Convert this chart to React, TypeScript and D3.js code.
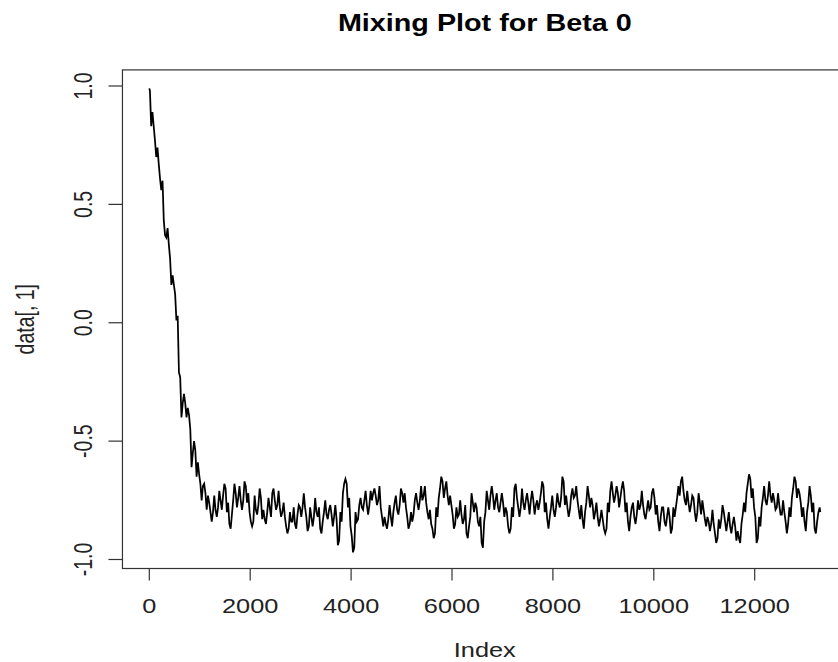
import React from "react";
import * as d3 from "d3";

// MCMC trace of Beta 0, one reading every STEP iterations (local level)
const STEP = 50;
const beta0: number[] = [
  0.99, 0.86, 0.80, 0.72, 0.64, 0.58, 0.40, 0.38, 0.30, 0.18,
  0.14, 0.02, -0.22, -0.37, -0.32, -0.38, -0.42, -0.58, -0.52, -0.62,
  -0.66, -0.72, -0.70, -0.76, -0.78, -0.82, -0.76, -0.80, -0.73, -0.76,
  -0.69, -0.78, -0.86, -0.78, -0.70, -0.76, -0.72, -0.77, -0.68, -0.74,
  -0.82, -0.85, -0.76, -0.79, -0.72, -0.81, -0.84, -0.77, -0.80, -0.71,
  -0.77, -0.74, -0.80, -0.78, -0.84, -0.88, -0.82, -0.81, -0.86, -0.79,
  -0.80, -0.75, -0.80, -0.87, -0.80, -0.84, -0.77, -0.80, -0.88, -0.82,
  -0.78, -0.81, -0.79, -0.84, -0.80, -0.93, -0.82, -0.70, -0.67, -0.76,
  -0.88, -0.96, -0.82, -0.80, -0.76, -0.77, -0.74, -0.79, -0.73, -0.71,
  -0.75, -0.72, -0.80, -0.84, -0.86, -0.80, -0.84, -0.78, -0.76, -0.79,
  -0.71, -0.74, -0.80, -0.86, -0.82, -0.78, -0.74, -0.77, -0.72, -0.71,
  -0.78, -0.81, -0.86, -0.90, -0.80, -0.72, -0.66, -0.72, -0.70, -0.75,
  -0.79, -0.86, -0.80, -0.78, -0.83, -0.80, -0.90, -0.84, -0.74, -0.78,
  -0.81, -0.84, -0.94, -0.82, -0.73, -0.76, -0.71, -0.77, -0.75, -0.78,
  -0.74, -0.80, -0.83, -0.88, -0.80, -0.69, -0.76, -0.80, -0.73, -0.77,
  -0.74, -0.78, -0.73, -0.79, -0.77, -0.74, -0.68, -0.78, -0.85, -0.80,
  -0.76, -0.80, -0.74, -0.76, -0.66, -0.75, -0.80, -0.76, -0.72, -0.71,
  -0.77, -0.80, -0.85, -0.78, -0.71, -0.76, -0.80, -0.78, -0.84, -0.81,
  -0.85, -0.88, -0.78, -0.69, -0.74, -0.71, -0.75, -0.72, -0.69, -0.78,
  -0.86, -0.80, -0.79, -0.83, -0.77, -0.74, -0.79, -0.81, -0.77, -0.75,
  -0.72, -0.79, -0.86, -0.80, -0.81, -0.84, -0.80, -0.88, -0.80, -0.76,
  -0.71, -0.66, -0.73, -0.74, -0.78, -0.75, -0.77, -0.82, -0.74, -0.78,
  -0.81, -0.84, -0.86, -0.82, -0.87, -0.92, -0.85, -0.80, -0.82, -0.86,
  -0.83, -0.87, -0.84, -0.90, -0.92, -0.83, -0.78, -0.70, -0.65, -0.72,
  -0.80, -0.92, -0.84, -0.76, -0.72, -0.75, -0.70, -0.74, -0.77, -0.75,
  -0.79, -0.78, -0.82, -0.87, -0.80, -0.72, -0.66, -0.72, -0.74, -0.80,
  -0.86, -0.78, -0.71, -0.78, -0.88, -0.82, -0.79,
];

// half-height of the dense vertical scribble within each reading's window
const spread: number[] = [
  0.01, 0.03, 0.03, 0.02, 0.03, 0.02, 0.03, 0.02, 0.03, 0.02,
  0.02, 0.01, 0.01, 0.03, 0.02, 0.02, 0.03, 0.03, 0.02, 0.03,
  0.02, 0.03, 0.02, 0.03, 0.02, 0.02, 0.03, 0.02, 0.02, 0.03,
  0.01, 0.02, 0.01, 0.03, 0.02, 0.02, 0.03, 0.02, 0.01, 0.02,
  0.02, 0.01, 0.03, 0.02, 0.02, 0.02, 0.01, 0.03, 0.02, 0.01,
  0.02, 0.03, 0.02, 0.02, 0.02, 0.01, 0.02, 0.03, 0.01, 0.02,
  0.02, 0.03, 0.02, 0.01, 0.02, 0.02, 0.03, 0.02, 0.01, 0.02,
  0.03, 0.02, 0.02, 0.02, 0.03, 0.01, 0.02, 0.02, 0.01, 0.02,
  0.02, 0.01, 0.02, 0.03, 0.02, 0.02, 0.03, 0.02, 0.02, 0.01,
  0.02, 0.03, 0.02, 0.02, 0.01, 0.03, 0.02, 0.02, 0.03, 0.02,
  0.01, 0.02, 0.02, 0.01, 0.02, 0.03, 0.02, 0.02, 0.03, 0.02,
  0.02, 0.02, 0.01, 0.01, 0.02, 0.02, 0.01, 0.02, 0.03, 0.02,
  0.02, 0.01, 0.02, 0.03, 0.02, 0.03, 0.01, 0.02, 0.02, 0.02,
  0.03, 0.02, 0.01, 0.02, 0.02, 0.03, 0.02, 0.02, 0.03, 0.02,
  0.02, 0.02, 0.03, 0.01, 0.02, 0.01, 0.02, 0.02, 0.03, 0.02,
  0.02, 0.03, 0.02, 0.02, 0.02, 0.02, 0.01, 0.02, 0.02, 0.02,
  0.03, 0.02, 0.02, 0.02, 0.01, 0.02, 0.02, 0.03, 0.02, 0.02,
  0.02, 0.03, 0.02, 0.02, 0.02, 0.02, 0.03, 0.02, 0.02, 0.02,
  0.02, 0.01, 0.02, 0.02, 0.02, 0.02, 0.03, 0.02, 0.02, 0.02,
  0.02, 0.02, 0.03, 0.02, 0.02, 0.03, 0.02, 0.02, 0.02, 0.03,
  0.02, 0.02, 0.02, 0.02, 0.03, 0.02, 0.02, 0.01, 0.02, 0.02,
  0.02, 0.01, 0.02, 0.03, 0.02, 0.02, 0.03, 0.02, 0.02, 0.03,
  0.02, 0.02, 0.02, 0.03, 0.02, 0.01, 0.02, 0.03, 0.02, 0.02,
  0.03, 0.02, 0.02, 0.02, 0.01, 0.02, 0.02, 0.02, 0.01, 0.02,
  0.02, 0.01, 0.02, 0.02, 0.03, 0.02, 0.03, 0.02, 0.02, 0.03,
  0.02, 0.03, 0.02, 0.02, 0.02, 0.02, 0.01, 0.02, 0.02, 0.02,
  0.02, 0.02, 0.02, 0.02, 0.01, 0.02, 0.01,
];

const xTicks = [0, 2000, 4000, 6000, 8000, 10000, 12000];
const yTicks = [-1, -0.5, 0, 0.5, 1];
const yTickLabels = ["-1.0", "-0.5", "0.0", "0.5", "1.0"];
const title = "Mixing Plot for Beta 0";
const xLabel = "Index";
const yLabel = "data[, 1]";

const W = 838;
const H = 662;
const FONT = "'Liberation Sans', Arial, sans-serif";
const SX = 1.3; // horizontal glyph stretch seen in the image

type Pt = { it: number; v: number };

export default function App() {
  const lastIter = (beta0.length - 1) * STEP;
  const pad = lastIter * 0.04;
  const xDom: [number, number] = [-pad, lastIter + pad];
  // pixel anchor: 0 -> 149.3, 12000 -> 754.7
  const k = (754.7 - 149.3) / 12000;
  const x = d3
    .scaleLinear()
    .domain(xDom)
    .range([149.3 + xDom[0] * k, 149.3 + xDom[1] * k]);

  const yMin = d3.min(beta0)!;
  const yMax = d3.max(beta0)!;
  const yPad = (yMax - yMin) * 0.04;
  const yDom: [number, number] = [yMin - yPad, yMax + yPad];
  const ky = (559.5 - 86) / 2;
  const y = d3
    .scaleLinear()
    .domain(yDom)
    .range([322.75 - yDom[0] * ky, 322.75 - yDom[1] * ky]);

  // each reading drawn as a dense vertical scribble (as R renders ~20 draws per pixel)
  const pts: Pt[] = [];
  beta0.forEach((v, i) => {
    const s = spread[i];
    const it = i * STEP;
    if (i === 0) {
      pts.push({ it, v });
      pts.push({ it: it + STEP * 0.25, v: v - s });
    } else if (i % 2 === 0) {
      pts.push({ it: it - STEP * 0.25, v: v + s });
      pts.push({ it: it + STEP * 0.25, v: v - s });
    } else {
      pts.push({ it: it - STEP * 0.25, v: v - s });
      pts.push({ it: it + STEP * 0.25, v: v + s });
    }
  });

  const line = d3
    .line<Pt>()
    .x((d) => x(Math.min(d.it, lastIter)))
    .y((d) => y(d.v));

  const left = x(xDom[0]);
  const right = x(xDom[1]);
  const top = y(yDom[1]);
  const bottom = y(yDom[0]);
  const cx = (left + right) / 2;

  return (
    <svg
      width={W}
      height={H}
      style={{ position: "absolute", left: 0, top: 0, background: "#fff" }}
      fontFamily={FONT}
    >
      <rect x={0} y={0} width={W} height={H} fill="#fff" />
      <path d={line(pts) || ""} fill="none" stroke="#000" strokeWidth={1.75} strokeLinejoin="miter" />
      <rect
        x={left}
        y={top}
        width={right - left}
        height={bottom - top}
        fill="none"
        stroke="#333"
        strokeWidth={1.2}
      />
      {xTicks.map((t) => (
        <g key={"xt" + t}>
          <line x1={x(t)} x2={x(t)} y1={bottom} y2={bottom + 12} stroke="#333" strokeWidth={1.2} />
          <text
            transform={`translate(${x(t)},613) scale(${SX},1)`}
            textAnchor="middle"
            fontSize={19.5}
            fill="#222"
          >
            {String(t)}
          </text>
        </g>
      ))}
      {yTicks.map((t, i) => (
        <g key={"yt" + t}>
          <line x1={left - 14} x2={left} y1={y(t)} y2={y(t)} stroke="#333" strokeWidth={1.2} />
          <text
            transform={`translate(92,${y(t)}) rotate(-90) scale(1,${SX})`}
            textAnchor="middle"
            fontSize={19.5}
            fill="#222"
          >
            {yTickLabels[i]}
          </text>
        </g>
      ))}
      <text
        transform={`translate(${cx},657) scale(${SX},1)`}
        textAnchor="middle"
        fontSize={19.5}
        fill="#222"
      >
        {xLabel}
      </text>
      <text
        transform={`translate(34,${(top + bottom) / 2}) rotate(-90) scale(1,${SX})`}
        textAnchor="middle"
        fontSize={19.5}
        fill="#222"
      >
        {yLabel}
      </text>
      <text
        transform={`translate(${cx},31) scale(1.25,1)`}
        textAnchor="middle"
        fontSize={23}
        fontWeight="bold"
        fill="#000"
      >
        {title}
      </text>
    </svg>
  );
}
